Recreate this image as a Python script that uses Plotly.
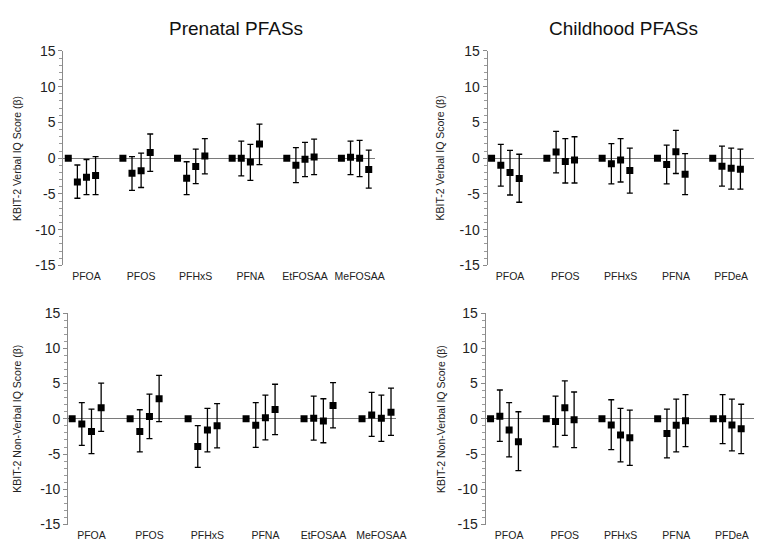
"""KBIT-2 IQ SCORES BY PFAS QUARTILE"""
import numpy as np
import plotly.graph_objects as go

# chemicals on the x axis
prenatal_chems = ["PFOA", "PFOS", "PFHxS", "PFNA", "EtFOSAA", "MeFOSAA"]
childhood_chems = ["PFOA", "PFOS", "PFHxS", "PFNA", "PFDeA"]

# beta (Q2, Q3, Q4 vs Q1) with 95% CI, one row per chemical
prenatal_verbal_beta = [[-3.33, -2.66, -2.43], [-2.10, -1.76, 0.81], [-2.80, -1.17, 0.32],
                        [0.00, -0.54, 1.98], [-0.99, -0.14, 0.18], [0.14, 0.00, -1.58]]
prenatal_verbal_lo = [[-5.60, -5.10, -5.10], [-4.50, -4.10, -1.85], [-5.10, -3.56, -2.20],
                      [-2.48, -3.10, -0.90], [-3.42, -2.57, -2.30], [-2.30, -2.57, -4.20]]
prenatal_verbal_hi = [[-0.95, -0.18, 0.23], [0.23, 0.72, 3.38], [-0.50, 1.26, 2.75],
                      [2.39, 1.94, 4.77], [1.49, 2.20, 2.66], [2.39, 2.50, 1.13]]

childhood_verbal_beta = [[-1.00, -2.00, -2.83], [0.87, -0.46, -0.27], [-0.78, -0.27, -1.73],
                         [-0.87, 0.91, -2.23], [-1.14, -1.41, -1.55]]
childhood_verbal_lo = [[-3.92, -5.15, -6.16], [-2.05, -3.47, -3.47], [-3.60, -3.33, -4.88],
                       [-3.60, -2.14, -5.10], [-3.92, -4.33, -4.33]]
childhood_verbal_hi = [[1.92, 1.09, 0.55], [3.74, 2.74, 3.00], [2.05, 2.74, 1.41],
                       [1.82, 3.88, 0.64], [1.69, 1.41, 1.28]]

prenatal_nonverbal_beta = [[-0.73, -1.79, 1.56], [-1.79, 0.32, 2.84], [-3.94, -1.60, -1.00],
                           [-0.92, 0.14, 1.33], [0.09, -0.32, 1.88], [0.55, 0.09, 0.92]]
prenatal_nonverbal_lo = [[-3.76, -4.95, -1.79], [-4.68, -2.80, -0.41], [-6.88, -4.68, -4.13],
                         [-4.04, -2.98, -2.25], [-3.03, -3.40, -1.28], [-2.48, -3.20, -2.34]]
prenatal_nonverbal_hi = [[2.29, 1.38, 5.05], [1.28, 3.49, 6.15], [-0.96, 1.47, 2.16],
                         [2.29, 3.35, 4.90], [3.20, 2.84, 5.14], [3.76, 3.35, 4.36]]

childhood_nonverbal_beta = [[0.37, -1.60, -3.26], [-0.37, 1.56, -0.14], [-0.87, -2.29, -2.70],
                            [-2.10, -0.92, -0.28], [0.00, -0.87, -1.42]]
childhood_nonverbal_lo = [[-3.20, -5.40, -7.34], [-3.99, -2.34, -4.08], [-4.36, -6.10, -6.60],
                          [-5.55, -4.68, -3.94], [-3.53, -4.54, -4.95]]
childhood_nonverbal_hi = [[4.08, 2.29, 1.00], [3.20, 5.37, 3.80], [2.70, 1.47, 1.24],
                          [1.38, 2.80, 3.44], [3.44, 2.80, 2.06]]

y_ticks = [-15, -10, -5, 0, 5, 10, 15]
y_ticktext = ["-15", "-10", "-5", "0", "5", "10", "15"]

W, H = 762, 544
FONT = "Arial, Liberation Sans, sans-serif"


def panel_traces(chems, beta, lo, hi, n):
    """REFERENCE QUARTILE AT 0 PLUS Q2-Q4 WITH ERROR BARS"""
    x, y, up, down = [], [], [], []
    for g, _ in enumerate(chems):
        x.append(6 * g)
        y.append(0)
        up.append(np.nan)
        down.append(np.nan)
        for q in range(3):
            x.append(6 * g + q + 1)
            y.append(beta[g][q])
            up.append(hi[g][q] - beta[g][q])
            down.append(beta[g][q] - lo[g][q])
    return go.Scatter(
        x=x,
        y=y,
        mode="markers",
        marker=dict(symbol="square", size=7, color="black"),
        error_y=dict(
            type="data",
            symmetric=False,
            array=up,
            arrayminus=down,
            color="black",
            thickness=1.3,
            width=3,
        ),
        xaxis=f"x{n}" if n > 1 else "x",
        yaxis=f"y{n}" if n > 1 else "y",
        showlegend=False,
        hoverinfo="skip",
    )


panels = [
    # chems, beta, lo, hi, x px span, y px span (top, bottom), x range, ytitle, ytitle x
    (prenatal_chems, prenatal_verbal_beta, prenatal_verbal_lo, prenatal_verbal_hi,
     (56, 372), (36, 257), [-0.55, 33.7], "KBIT-2 Verbal IQ Score (β)", 9),
    (childhood_chems, childhood_verbal_beta, childhood_verbal_lo, childhood_verbal_hi,
     (486, 758), (36, 257), [-0.43, 28.7], "KBIT-2 Verbal IQ Score (β)", 438),
    (prenatal_chems, prenatal_nonverbal_beta, prenatal_nonverbal_lo, prenatal_nonverbal_hi,
     (61, 393), (306, 524), [-0.41, 33.5], "KBIT-2 Non-Verbal IQ Score (β)", 9),
    (childhood_chems, childhood_nonverbal_beta, childhood_nonverbal_lo, childhood_nonverbal_hi,
     (484, 758), (306, 524), [-0.53, 28.6], "KBIT-2 Non-Verbal IQ Score (β)", 439),
]

data = []
layout = dict(
    width=W,
    height=H,
    margin=dict(t=0, l=0, r=0, b=0),
    paper_bgcolor="white",
    plot_bgcolor="white",
    font=dict(family=FONT, color="#222222"),
    annotations=[],
)

for i, (chems, beta, lo, hi, xs, ys, xr, ytitle, ytx) in enumerate(panels, start=1):
    data.append(panel_traces(chems, beta, lo, hi, i))
    sfx = "" if i == 1 else str(i)
    layout[f"xaxis{sfx}"] = dict(
        domain=[xs[0] / W, xs[1] / W],
        range=xr,
        anchor=f"y{sfx}",
        showgrid=False,
        zeroline=False,
        showline=False,
        ticks="",
        tickvals=[6 * g + 2 for g in range(len(chems))],
        ticktext=chems,
        tickfont=dict(size=10.5, color="#222222"),
        ticklabelstandoff=3,
        fixedrange=True,
    )
    layout[f"yaxis{sfx}"] = dict(
        domain=[(H - ys[1]) / H, (H - ys[0]) / H],
        range=[-15, 15],
        anchor=f"x{sfx}",
        tickvals=y_ticks,
        ticktext=y_ticktext,
        showgrid=False,
        showline=True,
        linecolor="#8a8a8a",
        linewidth=1,
        ticks="outside",
        ticklen=4,
        tickcolor="#8a8a8a",
        minor=dict(dtick=1, ticks="outside", ticklen=3, tickcolor="#9a9a9a", showgrid=False),
        zeroline=True,
        zerolinecolor="#7a7a7a",
        zerolinewidth=1,
        tickfont=dict(size=14, color="#222222"),
        fixedrange=True,
    )
    layout["annotations"].append(
        dict(
            text=ytitle,
            x=ytx / W,
            y=(H - (ys[0] + ys[1]) / 2) / H,
            xref="paper",
            yref="paper",
            textangle=-90,
            showarrow=False,
            font=dict(size=10.5, color="#222222"),
            xanchor="center",
            yanchor="middle",
        )
    )

for title, cx in [("Prenatal PFASs", 231), ("Childhood PFASs", 624)]:
    layout["annotations"].append(
        dict(
            text=title,
            x=cx / W,
            y=(H - 13) / H,
            xref="paper",
            yref="paper",
            showarrow=False,
            font=dict(size=19, color="#111111"),
            xanchor="center",
            yanchor="middle",
        )
    )

fig = go.Figure(data, go.Layout(**layout))
fig.write_html("out.html")
